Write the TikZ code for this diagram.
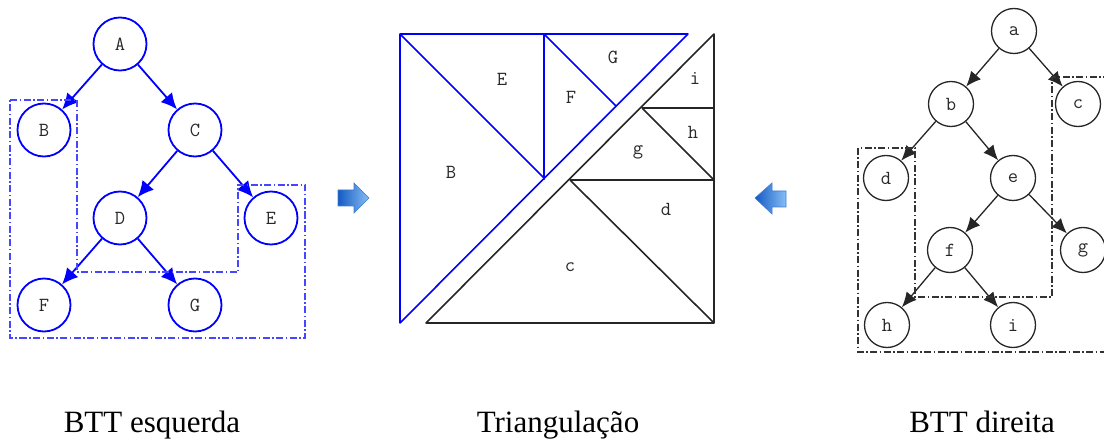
\documentclass[tikz,border=0pt]{standalone}
\usepackage{fontspec}
\setmainfont{Liberation Serif}
\usetikzlibrary{arrows.meta}
\definecolor{boxblue}{RGB}{70,70,255}
\definecolor{arrowdark}{RGB}{20,90,195}
\definecolor{arrowlight}{RGB}{135,190,245}
\definecolor{arrowedge}{RGB}{60,125,215}
\definecolor{labelgray}{RGB}{40,40,40}
\tikzset{
  bluenode/.style={circle,draw=blue,line width=1.8pt,minimum size=53pt,inner sep=0pt,
    text=labelgray,font=\ttfamily\fontsize{20}{20}\selectfont},
  blacknode/.style={circle,draw=black!85,line width=1.3pt,minimum size=45pt,inner sep=0pt,
    text=labelgray,font=\ttfamily\fontsize{20}{20}\selectfont},
  bluearrow/.style={draw=blue,line width=1.8pt,-{Latex[length=16pt,width=15pt]}},
  blackarrow/.style={draw=black!85,line width=1.3pt,-{Latex[length=15pt,width=13pt]}},
  dashdot/.style={line width=1.1pt,dash pattern=on 7pt off 2.5pt on 1.5pt off 2.5pt},
  piecelabel/.style={text=labelgray,font=\ttfamily\fontsize{20}{20}\selectfont},
  caption/.style={anchor=base,font=\fontsize{31}{31}\selectfont},
  blockarrow/.style={draw=arrowedge,line width=0.6pt,left color=arrowdark,right color=arrowlight}
}
\begin{document}
\begin{tikzpicture}[x=1pt,y=-1pt]
\useasboundingbox (0,0) rectangle (1104,441);

% BTT esquerda
\node[bluenode] (A) at (120,44) {A};
\node[bluenode] (B) at (44,130) {B};
\node[bluenode] (C) at (195,130) {C};
\node[bluenode] (D) at (120,218) {D};
\node[bluenode] (E) at (271,218) {E};
\node[bluenode] (F) at (44,305) {F};
\node[bluenode] (G) at (195,305) {G};
\draw[bluearrow] (A) -- (B);
\draw[bluearrow] (A) -- (C);
\draw[bluearrow] (C) -- (D);
\draw[bluearrow] (C) -- (E);
\draw[bluearrow] (D) -- (F);
\draw[bluearrow] (D) -- (G);
\draw[dashdot,boxblue] (10,100) -- (77,100) -- (77,272) -- (238,272) -- (238,185)
  -- (305,185) -- (305,338) -- (10,338) -- cycle;

% seta para a direita
\path[blockarrow] (338,190) -- (354,190) -- (354,183) -- (369,198) -- (354,213)
  -- (354,206) -- (338,206) -- cycle;

% triangulacao
\draw[blue,line width=1.6pt,line join=round] (400,34) -- (688,34) -- (400,323) -- cycle;
\draw[blue,line width=1.6pt] (400,34) -- (544,178) -- (544,34);
\draw[blue,line width=1.6pt] (544,34) -- (616,106);
\draw[black!85,line width=1.6pt,line join=round] (714,34) -- (714,323) -- (426,323) -- cycle;
\draw[black!85,line width=1.6pt] (570,180) -- (714,180);
\draw[black!85,line width=1.6pt] (570,180) -- (714,323);
\draw[black!85,line width=1.6pt] (642,108) -- (714,108);
\draw[black!85,line width=1.6pt] (642,108) -- (714,180);
\node[piecelabel] (pE) at (502,79) {E};
\node[piecelabel] (pF) at (571,97) {F};
\node[piecelabel] (pG) at (613,57) {G};
\node[piecelabel] (pB) at (451,172) {B};
\node[piecelabel] (pc) at (570,267) {c};
\node[piecelabel] (pd) at (666,209) {d};
\node[piecelabel] (pg) at (638,152) {g};
\node[piecelabel] (ph) at (693,132) {h};
\node[piecelabel] (pi) at (695,78) {i};

% seta para a esquerda
\path[blockarrow] (786,191) -- (772,191) -- (772,183) -- (755,198) -- (772,214)
  -- (772,207) -- (786,207) -- cycle;

% BTT direita
\node[blacknode] (a) at (1014,31) {a};
\node[blacknode] (b) at (951,104) {b};
\node[blacknode] (c) at (1078,104) {c};
\node[blacknode] (d) at (886,178) {d};
\node[blacknode] (e) at (1013,178) {e};
\node[blacknode] (f) at (950,250) {f};
\node[blacknode] (g) at (1083,250) {g};
\node[blacknode] (h) at (887,325) {h};
\node[blacknode] (i) at (1013,325) {i};
\draw[blackarrow] (a) -- (b);
\draw[blackarrow] (a) -- (c);
\draw[blackarrow] (b) -- (d);
\draw[blackarrow] (b) -- (e);
\draw[blackarrow] (e) -- (f);
\draw[blackarrow] (e) -- (g);
\draw[blackarrow] (f) -- (h);
\draw[blackarrow] (f) -- (i);
\draw[dashdot,black!80] (1110,77) -- (1052,77) -- (1052,297) -- (915,297) -- (915,148)
  -- (858,148) -- (858,352) -- (1110,352);

% legendas
\node[caption] (capL) at (152,432) {BTT esquerda};
\node[caption] (capM) at (558,432) {Triangulação};
\node[caption] (capR) at (982,432) {BTT direita};
\end{tikzpicture}
\end{document}
